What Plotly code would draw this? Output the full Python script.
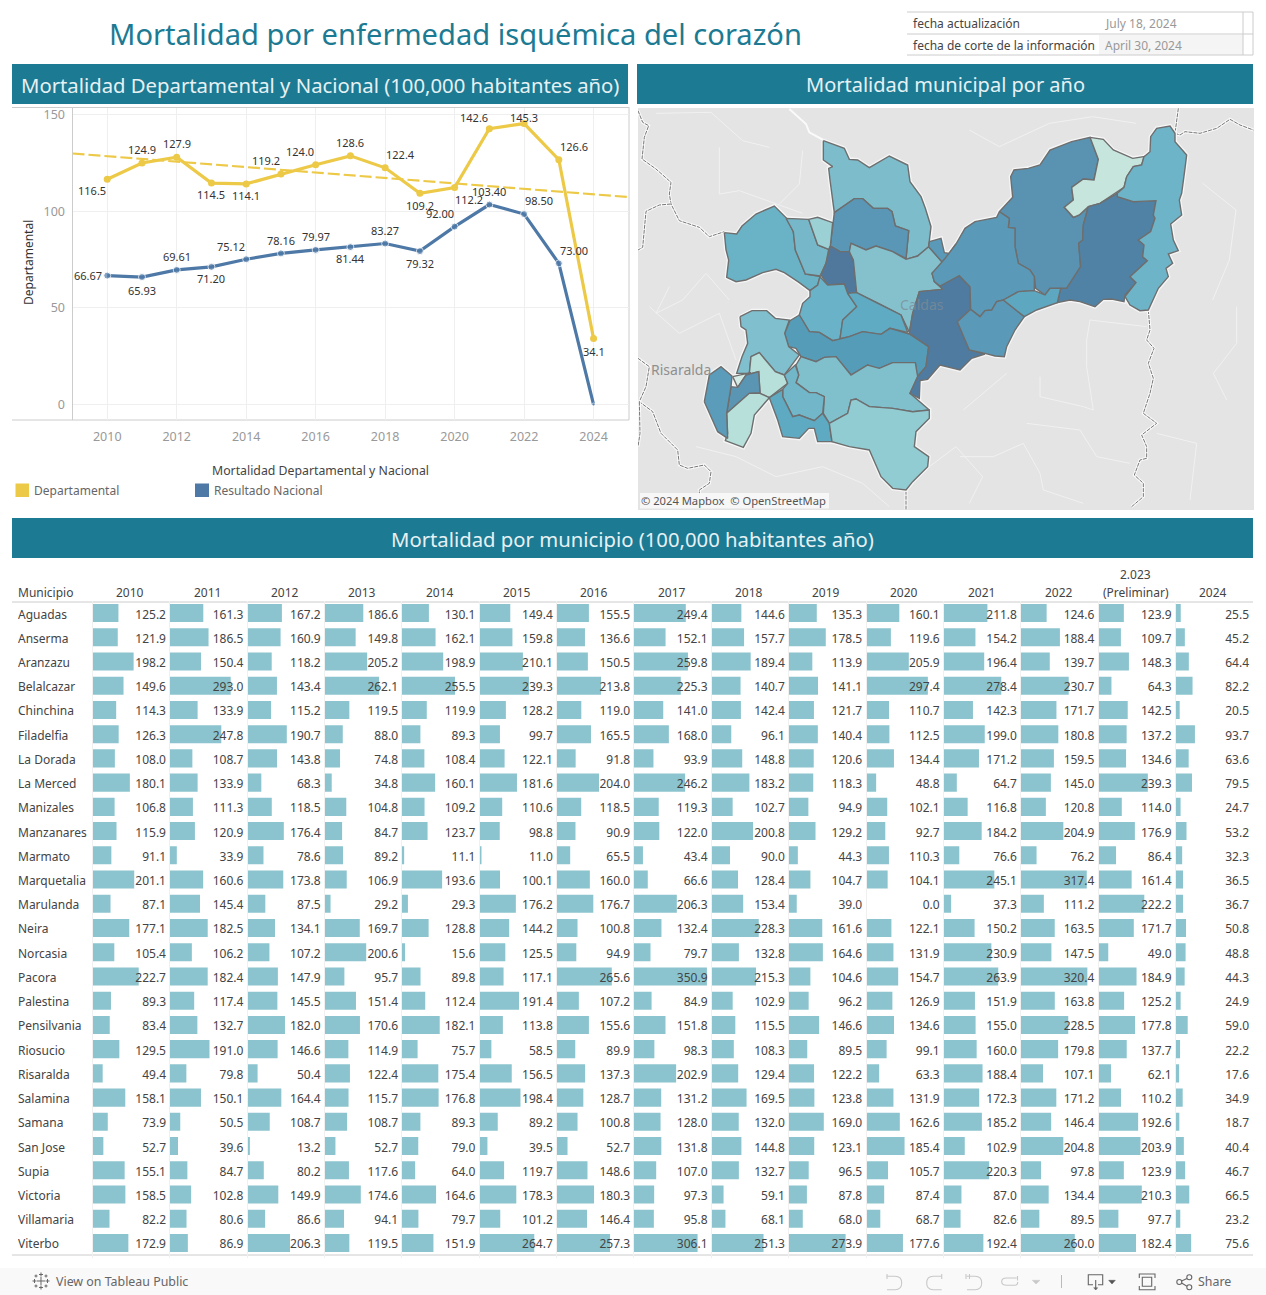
import plotly.graph_objects as go

W, H = 1266, 1295

# ---------- line chart data ----------
years = list(range(2010, 2025))
departamental = [116.5,124.9,127.9,114.5,114.1,119.2,124.0,128.6,122.4,109.2,112.2,142.6,145.3,126.6,34.1]
nacional = [66.67,65.93,69.61,71.20,75.12,78.16,79.97,81.44,83.27,79.32,92.00,103.40,98.50,73.00,0]
nacional_labels = ["66.67","65.93","69.61","71.20","75.12","78.16","79.97","81.44","83.27","79.32","92.00","103.40","98.50","73.00",""]
trend_x = [2009, 2025]
trend_y = [129.8, 107.3]

# ---------- table data ----------
col_heads = ["2010","2011","2012","2013","2014","2015","2016","2017","2018","2019","2020","2021","2022","(Preliminar)","2024"]
municipios = ["Aguadas","Anserma","Aranzazu","Belalcazar","Chinchina","Filadelfia","La Dorada","La Merced","Manizales","Manzanares","Marmato","Marquetalia","Marulanda","Neira","Norcasia","Pacora","Palestina","Pensilvania","Riosucio","Risaralda","Salamina","Samana","San Jose","Supia","Victoria","Villamaria","Viterbo"]
aguadas = [125.2,161.3,167.2,186.6,130.1,149.4,155.5,249.4,144.6,135.3,160.1,211.8,124.6,123.9,25.5]
anserma = [121.9,186.5,160.9,149.8,162.1,159.8,136.6,152.1,157.7,178.5,119.6,154.2,188.4,109.7,45.2]
aranzazu = [198.2,150.4,118.2,205.2,198.9,210.1,150.5,259.8,189.4,113.9,205.9,196.4,139.7,148.3,64.4]
belalcazar = [149.6,293.0,143.4,262.1,255.5,239.3,213.8,225.3,140.7,141.1,297.4,278.4,230.7,64.3,82.2]
chinchina = [114.3,133.9,115.2,119.5,119.9,128.2,119.0,141.0,142.4,121.7,110.7,142.3,171.7,142.5,20.5]
filadelfia = [126.3,247.8,190.7,88.0,89.3,99.7,165.5,168.0,96.1,140.4,112.5,199.0,180.8,137.2,93.7]
la_dorada = [108.0,108.7,143.8,74.8,108.4,122.1,91.8,93.9,148.8,120.6,134.4,171.2,159.5,134.6,63.6]
la_merced = [180.1,133.9,68.3,34.8,160.1,181.6,204.0,246.2,183.2,118.3,48.8,64.7,145.0,239.3,79.5]
manizales = [106.8,111.3,118.5,104.8,109.2,110.6,118.5,119.3,102.7,94.9,102.1,116.8,120.8,114.0,24.7]
manzanares = [115.9,120.9,176.4,84.7,123.7,98.8,90.9,122.0,200.8,129.2,92.7,184.2,204.9,176.9,53.2]
marmato = [91.1,33.9,78.6,89.2,11.1,11.0,65.5,43.4,90.0,44.3,110.3,76.6,76.2,86.4,32.3]
marquetalia = [201.1,160.6,173.8,106.9,193.6,100.1,160.0,66.6,128.4,104.7,104.1,245.1,317.4,161.4,36.5]
marulanda = [87.1,145.4,87.5,29.2,29.3,176.2,176.7,206.3,153.4,39.0,0.0,37.3,111.2,222.2,36.7]
neira = [177.1,182.5,134.1,169.7,128.8,144.2,100.8,132.4,228.3,161.6,122.1,150.2,163.5,171.7,50.8]
norcasia = [105.4,106.2,107.2,200.6,15.6,125.5,94.9,79.7,132.8,164.6,131.9,230.9,147.5,49.0,48.8]
pacora = [222.7,182.4,147.9,95.7,89.8,117.1,265.6,350.9,215.3,104.6,154.7,263.9,320.4,184.9,44.3]
palestina = [89.3,117.4,145.5,151.4,112.4,191.4,107.2,84.9,102.9,96.2,126.9,151.9,163.8,125.2,24.9]
pensilvania = [83.4,132.7,182.0,170.6,182.1,113.8,155.6,151.8,115.5,146.6,134.6,155.0,228.5,177.8,59.0]
riosucio = [129.5,191.0,146.6,114.9,75.7,58.5,89.9,98.3,108.3,89.5,99.1,160.0,179.8,137.7,22.2]
risaralda = [49.4,79.8,50.4,122.4,175.4,156.5,137.3,202.9,129.4,122.2,63.3,188.4,107.1,62.1,17.6]
salamina = [158.1,150.1,164.4,115.7,176.8,198.4,128.7,131.2,169.5,123.8,131.9,172.3,171.2,110.2,34.9]
samana = [73.9,50.5,108.7,108.7,89.3,89.2,100.8,128.0,132.0,169.0,162.6,185.2,146.4,192.6,18.7]
san_jose = [52.7,39.6,13.2,52.7,79.0,39.5,52.7,131.8,144.8,123.1,185.4,102.9,204.8,203.9,40.4]
supia = [155.1,84.7,80.2,117.6,64.0,119.7,148.6,107.0,132.7,96.5,105.7,220.3,97.8,123.9,46.7]
victoria = [158.5,102.8,149.9,174.6,164.6,178.3,180.3,97.3,59.1,87.8,87.4,87.0,134.4,210.3,66.5]
villamaria = [82.2,80.6,86.6,94.1,79.7,101.2,146.4,95.8,68.1,68.0,68.7,82.6,89.5,97.7,23.2]
viterbo = [172.9,86.9,206.3,119.5,151.9,264.7,257.3,306.1,251.3,273.9,177.6,192.4,260.0,182.4,75.6]
filas = [aguadas,anserma,aranzazu,belalcazar,chinchina,filadelfia,la_dorada,la_merced,manizales,manzanares,marmato,marquetalia,marulanda,neira,norcasia,pacora,palestina,pensilvania,riosucio,risaralda,salamina,samana,san_jose,supia,victoria,villamaria,viterbo]

# ---------- map outlines (map units) ----------
p_a = [(562,122),(625,145),(640,178),(665,180),(700,203),(760,168),(815,195),(822,245),(855,290),(868,325),(885,380),(878,440),(845,468),(810,478),(818,392),(778,378),(768,335),(755,325),(712,325),(680,296),(655,296),(595,338),(582,240),(578,205),(590,200),(562,180)]
p_b = [(595,338),(655,296),(680,296),(712,325),(755,325),(768,335),(778,378),(818,392),(810,475),(770,455),(720,438),(690,450),(645,430),(640,455),(612,455),(583,438),(590,380)]
p_c = [(265,398),(302,402),(318,378),(360,342),(415,318),(455,358),(472,395),(478,450),(508,522),(552,530),(545,555),(522,572),(490,548),(445,518),(420,508),(380,518),(330,540),(300,545),(272,532),(278,480),(270,450)]
p_d = [(450,355),(518,358),(545,435),(578,448),(570,490),(552,528),(508,522),(478,450),(472,395)]
p_e = [(518,358),(545,352),(590,368),(583,438),(578,448),(545,435)]
p_f = [(583,438),(612,455),(640,455),(652,480),(662,578),(635,580),(625,552),(575,555),(555,525),(570,490)]
p_g = [(645,430),(690,450),(720,438),(770,455),(810,478),(845,468),(878,440),(920,488),(888,520),(895,545),(920,568),(850,575),(830,640),(820,697),(795,645),(730,612),(662,578),(652,480),(640,455)]
p_h = [(880,425),(915,415),(925,458),(940,460),(960,432),(925,488),(920,488),(878,440)]
p_i = [(552,530),(575,555),(625,552),(635,580),(662,620),(620,660),(612,718),(590,722),(550,697),(520,695),(490,645),(500,610),(522,590),(522,572),(545,555)]
p_j = [(635,580),(662,578),(730,612),(795,645),(815,697),(762,685),(735,703),(680,695),(640,710),(612,716),(620,660),(662,620)]
p_k = [(490,645),(520,695),(550,697),(590,722),(640,710),(680,695),(735,703),(762,685),(820,702),(878,740),(870,800),(843,830),(838,788),(770,788),(730,805),(700,800),(695,795),(645,825),(600,770),(565,772),(540,785),(495,770),(480,745),(458,740),(446,700),(462,662)]
p_l = [(312,650),(348,632),(392,632),(418,655),(460,660),(446,700),(458,740),(490,765),(445,825),(418,815),(370,758),(345,770),(340,820),(302,820),(318,770),(335,730),(330,690),(315,680)]
p_m = [(345,770),(370,758),(418,815),(445,825),(455,850),(400,893),(372,880),(368,815),(330,825),(340,820)]
p_n = [(290,830),(345,818),(330,825),(305,862)]
p_o = [(305,862),(330,825),(368,815),(372,878),(340,880),(272,940),(285,860)]
p_p = [(340,880),(372,880),(400,893),(355,945),(345,1000),(322,1042),(268,1022),(275,1000),(272,940)]
p_q = [(205,905),(220,825),(255,800),(288,828),(285,860),(272,940),(275,1015),(245,995),(225,950)]
p_r = [(480,795),(495,770),(540,785),(565,772),(600,770),(645,825),(695,795),(730,805),(770,788),(838,788),(845,830),(822,880),(880,930),(830,935),(770,925),(700,920),(660,897),(645,900),(635,940),(580,970),(562,940),(565,890),(540,878),(520,878),(480,848),(488,825)]
p_s = [(445,825),(478,795),(488,825),(480,848),(520,878),(540,878),(565,890),(560,940),(535,962),(490,945),(470,950),(440,890),(440,868),(455,850)]
p_t = [(400,893),(440,868),(440,890),(470,950),(490,945),(535,962),(560,940),(580,970),(588,1025),(545,1025),(535,985),(518,985),(490,1015),(440,1010),(425,960)]
p_u = [(580,970),(635,940),(645,900),(660,897),(700,920),(770,925),(830,935),(880,930),(880,955),(840,995),(835,1040),(878,1070),(875,1100),(830,1145),(810,1170),(770,1165),(735,1130),(700,1050),(640,1040),(588,1025)]
p_v = [(912,558),(970,527),(1002,560),(1004,628),(964,665),(1000,750),(1047,762),(1007,775),(972,810),(912,795),(875,838),(852,842),(850,895),(822,880),(845,830),(870,800),(878,740),(820,700),(830,640),(850,575),(920,568)]
p_w = [(1090,335),(1130,292),(1124,230),(1134,210),(1177,205),(1212,195),(1242,150),(1307,125),(1362,112),(1387,178),(1374,240),(1342,237),(1307,262),(1312,300),(1285,322),(1312,352),(1330,345),(1357,320),(1342,375),(1340,420),(1328,430),(1334,500),(1292,565),(1242,565),(1227,585),(1199,565),(1195,530),(1182,510),(1147,490),(1137,440),(1137,385),(1117,382),(1120,355)]
p_x = [(1362,112),(1402,118),(1432,150),(1490,175),(1524,170),(1517,195),(1492,200),(1472,230),(1464,262),(1392,310),(1357,320),(1330,345),(1312,352),(1285,322),(1312,300),(1307,262),(1342,237),(1374,240),(1387,178)]
p_y = [(1357,320),(1392,310),(1444,280),(1447,290),(1492,305),(1560,302),(1552,345),(1557,355),(1544,395),(1507,420),(1524,435),(1520,470),(1534,482),(1482,530),(1500,548),(1467,585),(1464,605),(1427,597),(1402,598),(1377,620),(1332,605),(1302,600),(1264,608),(1274,565),(1292,565),(1334,500),(1328,430),(1340,420),(1342,375)]
p_z = [(1524,170),(1542,155),(1544,110),(1562,85),(1602,78),(1617,100),(1617,125),(1652,165),(1647,205),(1637,280),(1630,300),(1637,345),(1604,372),(1612,420),(1627,452),(1597,462),(1610,490),(1590,505),(1597,530),(1567,565),(1537,630),(1512,632),(1482,615),(1467,590),(1500,548),(1482,530),(1534,482),(1520,470),(1524,435),(1507,420),(1544,395),(1557,355),(1552,345),(1560,302),(1492,305),(1444,290),(1444,280),(1464,262),(1472,230),(1492,200),(1517,195)]
p_aa = [(960,432),(987,385),(1017,365),(1082,352),(1090,335),(1120,355),(1117,382),(1137,385),(1137,440),(1147,490),(1182,510),(1195,530),(1195,572),(1147,575),(1102,600),(1082,605),(1067,630),(1047,632),(1032,650),(1004,628),(1002,560),(970,527),(912,558),(895,545),(888,520),(925,478)]
p_bb = [(964,665),(1004,628),(1032,650),(1047,632),(1067,630),(1082,605),(1102,600),(1165,650),(1137,690),(1112,740),(1105,770),(1077,768),(1047,760),(1000,750)]
p_cc = [(1102,600),(1147,575),(1195,572),(1227,585),(1242,565),(1274,565),(1264,608),(1202,630),(1165,650)]

# department borders (map units)
b_1 = [(6,32),(20,67),(38,77),(25,112),(18,177),(60,207),(105,247),(100,282),(105,312),(130,362),(190,382),(220,410),(265,395)]
b_2 = [(105,312),(70,315),(30,334),(25,392),(20,442),(6,450)]
b_4 = [(6,775),(40,800),(30,860),(10,905),(50,935),(75,1000),(125,1050),(130,1095),(155,1105),(205,1095),(225,1115),(220,1150),(190,1170),(190,1180)]
b_5 = [(10,905),(12,1000),(6,1040)]
b_6 = [(810,1172),(810,1228)]
b_7 = [(1627,25),(1617,100),(1632,105),(1647,95),(1692,100),(1742,85),(1782,58),(1812,75),(1852,90)]
b_8 = [(1537,630),(1542,690),(1532,720),(1554,745),(1537,790),(1552,835),(1542,880),(1522,940),(1562,970),(1517,1005),(1532,1040),(1532,1075),(1512,1080),(1495,1125),(1522,1150),(1522,1190),(1487,1220)]
# white road and faint rivers (map units)
w_1 = [(460,27),(510,72),(520,97),(562,120)]
r_1 = [(250,142),(250,282),(310,272),(500,340)]
r_2 = [(400,142),(320,122),(225,37),(60,40)]
r_3 = [(500,152),(490,252),(430,312)]
r_4 = [(1212,830),(1212,890),(1342,920),(1372,930),(1352,800),(1352,720),(1362,660),(1532,680)]
r_5 = [(1562,1000),(1682,1030),(1662,1200)]
r_6 = [(1802,620),(1802,730),(1732,820),(1772,900)]
r_7 = [(1112,820),(982,930)]
r_8 = [(972,1070),(1072,1070),(1162,1030),(1212,1120),(1222,1170),(1342,1210)]
r_9 = [(1172,970),(1332,990),(1382,1070),(1482,1090)]
r_10 = [(1000,90),(1090,140),(1240,70),(1370,50),(1500,70)]
r_11 = [(1700,250),(1800,330),(1780,480),(1730,600)]
r_12 = [(40,620),(130,700),(250,640),(300,780)]
r_13 = [(180,1040),(300,1070),(420,1130),(560,1100),(680,1150),(760,1220)]
r_14 = [(100,560),(60,640),(140,600),(210,520),(280,600)]
r_15 = [(880,1100),(960,1040),(1040,1130),(1000,1210)]

fig = go.Figure()

def px_x(v): return v / W
def px_y(v): return 1 - v / H

FONT = "Noto Sans"
TEAL = "#1c7a93"
YEL = "#edc948"
BLU = "#4e79a7"
BAR = "#8bc4ce"
HEAD = "#e6f1f4"

shapes = []
annots = []

def rect(x0, y0, x1, y1, fill, layer="below"):
    shapes.append(dict(type="rect", xref="paper", yref="paper", x0=px_x(x0), x1=px_x(x1), y0=px_y(y0), y1=px_y(y1),
                       fillcolor=fill, line=dict(width=0), layer=layer))

def hline(x0, x1, y, color="#cccccc", w=1):
    shapes.append(dict(type="line", xref="paper", yref="paper", x0=px_x(x0), x1=px_x(x1), y0=px_y(y), y1=px_y(y),
                       line=dict(color=color, width=w), layer="below"))

def vline(x, y0, y1, color="#cccccc", w=1):
    shapes.append(dict(type="line", xref="paper", yref="paper", x0=px_x(x), x1=px_x(x), y0=px_y(y0), y1=px_y(y1),
                       line=dict(color=color, width=w), layer="below"))

def label(x, y, s, size=12, color="#444444", anchor="left", family=FONT, **kw):
    annots.append(dict(xref="paper", yref="paper", x=px_x(x), y=px_y(y), text=s, showarrow=False, xanchor=anchor,
                       yanchor="middle", font=dict(size=size, color=color, family=family), borderpad=0, borderwidth=0, **kw))

def icon(cmds, color, w=1.1, fill=None):
    parts = []
    for c in cmds:
        if c[0] == "Z":
            parts.append("Z")
            continue
        nums = c[1:]
        pts = []
        for k in range(0, len(nums), 2):
            pts.append(f"{px_x(nums[k]):.6f},{px_y(nums[k + 1]):.6f}")
        parts.append(c[0] + " ".join(pts))
    shapes.append(dict(type="path", xref="paper", yref="paper", path=" ".join(parts), layer="above",
                       line=dict(color=color, width=w), fillcolor=fill or "rgba(0,0,0,0)"))

def circle(cx, cy, r, color):
    shapes.append(dict(type="circle", xref="paper", yref="paper", x0=px_x(cx - r), x1=px_x(cx + r), y0=px_y(cy + r), y1=px_y(cy - r),
                       line=dict(color=color, width=1.1), fillcolor="rgba(0,0,0,0)", layer="above"))

def plus(cx, cy, r, color="#666666"):
    icon([("M", cx - r, cy), ("L", cx + r, cy)], color, 1)
    icon([("M", cx, cy - r), ("L", cx, cy + r)], color, 1)

# ----- frame elements -----
rect(12, 64, 628, 104, TEAL)
rect(637, 64, 1253, 104, TEAL)
rect(12, 518, 1253, 558, TEAL)
label(455.5, 34, "Mortalidad por enfermedad isquémica del corazón", 29.1, TEAL, "center")
label(320, 84.5, "Mortalidad Departamental y Nacional (100,000 habitantes año)", 20.3, HEAD, "center")
label(945.5, 85, "Mortalidad municipal por año", 20, HEAD, "center")
label(632.5, 538.5, "Mortalidad por municipio (100,000 habitantes año)", 20.3, HEAD, "center")

# meta table
rect(1099, 35, 1243, 55, "#f5f5f5")
hline(907, 1253, 12); hline(907, 1253, 34); hline(907, 1253, 55)
vline(1243, 12, 55); vline(1253, 12, 55)
label(913, 24, "fecha actualización", 12, "#444444")
label(913, 45.5, "fecha de corte de la información", 12, "#444444")
label(1105, 24, "July 18, 2024", 12, "#999999")
label(1105, 45.5, "April 30, 2024", 12, "#999999")

# ----- line chart -----
hline(12, 629, 107.5); hline(12, 629, 420)
vline(629, 107, 420)
vline(72.5, 107, 420)
fig.add_trace(go.Scatter(x=trend_x, y=trend_y, mode="lines", line=dict(color=YEL, width=2.2, dash="12px,4px"), hoverinfo="skip"))
fig.add_trace(go.Scatter(x=years, y=nacional, mode="lines+markers", line=dict(color=BLU, width=3.2),
                         marker=dict(size=[7] * 14 + [3], color=BLU), name="Resultado Nacional"))
fig.add_trace(go.Scatter(x=years, y=departamental, mode="lines+markers", line=dict(color=YEL, width=3.2),
                         marker=dict(size=7, color=YEL), name="Departamental"))

dep_dx = [-15,0,0,0,0,-15,-15.5,0,15,0,14.5,-15,0,15,0]
dep_dy = [11.4,-13.4,-13.7,11.5,11.8,-13.4,-13.2,-13.3,-13.3,12.3,12,-11.4,-6.2,-13.2,12.7]
nac_dx = [-19,0,0,0,-15,0,0,0,0,0,-14.5,0,15,15,0]
nac_dy = [0.4,13,-13,12,-12.3,-12.5,-13,11.9,-12.6,12.8,-12.8,-12.9,-13.3,-12.4,0]
for i, yr in enumerate(years):
    annots.append(dict(x=yr, y=departamental[i], xref="x", yref="y", text=f"{departamental[i]:.1f}", showarrow=False,
                       xshift=dep_dx[i], yshift=-dep_dy[i], font=dict(size=11, color="#333333", family=FONT)))
    if nacional_labels[i]:
        annots.append(dict(x=yr, y=nacional[i], xref="x", yref="y", text=nacional_labels[i], showarrow=False,
                           xshift=nac_dx[i], yshift=-nac_dy[i], font=dict(size=11, color="#333333", family=FONT)))

# legend
label(212, 470.5, "Mortalidad Departamental y Nacional", 12.3, "#444444")
rect(15.5, 483.5, 29, 497, YEL)
rect(195, 483.5, 209, 497, BLU)
label(34, 490.5, "Departamental", 12, "#666666")
label(214, 490.5, "Resultado Nacional", 12, "#666666")
label(29, 263, "Departamental", 12, "#333333", "center", textangle=-90)

# ----- map -----
rect(638, 108, 1254, 510, "#e4e4e4")
for riv in [r_1, r_2, r_3, r_4, r_5, r_6, r_7, r_8, r_9, r_10, r_11, r_12, r_13, r_14, r_15]:
    fig.add_trace(go.Scatter(x=[a for a, _ in riv], y=[b for _, b in riv], xaxis="x2", yaxis="y2", mode="lines",
                             line=dict(color="#f1f1f1", width=1), hoverinfo="skip"))
fig.add_trace(go.Scatter(x=[a for a, _ in w_1], y=[b for _, b in w_1], xaxis="x2", yaxis="y2", mode="lines",
                         line=dict(color="#fafafa", width=2), hoverinfo="skip"))
for bord in [b_1, b_2, b_4, b_5, b_6, b_7, b_8]:
    fig.add_trace(go.Scatter(x=[a for a, _ in bord], y=[b for _, b in bord], xaxis="x2", yaxis="y2", mode="lines",
                             line=dict(color="#fafafa", width=3), hoverinfo="skip"))
    fig.add_trace(go.Scatter(x=[a for a, _ in bord], y=[b for _, b in bord], xaxis="x2", yaxis="y2", mode="lines",
                             line=dict(color="#777777", width=1, dash="4px,1px"), hoverinfo="skip"))
polys = [(p_a,"#7cbccb"),(p_b,"#5a97b6"),(p_c,"#6ab3c6"),(p_d,"#76b8c9"),(p_e,"#9bd0d5"),(p_f,"#4f789c"),(p_g,"#84c1cd"),
         (p_h,"#5a9ab8"),(p_i,"#6ab2c7"),(p_j,"#5eabc3"),(p_k,"#559cb9"),(p_l,"#80bfcd"),(p_m,"#b7e0da"),(p_n,"#d5ece6"),
         (p_o,"#5a95b4"),(p_p,"#b7e0da"),(p_q,"#5a9cba"),(p_r,"#80bfcc"),(p_s,"#72b7c9"),(p_t,"#5eaac2"),(p_u,"#91ccd3"),
         (p_v,"#4f7ba0"),(p_w,"#5a92b1"),(p_x,"#c5e5dd"),(p_y,"#5082a6"),(p_z,"#6eb4c8"),(p_aa,"#5a9ab8"),(p_bb,"#5a9ab8"),(p_cc,"#5da7c1")]
for pts, _c in polys:
    cx = [a for a, _ in pts] + [pts[0][0]]
    cy = [b for _, b in pts] + [pts[0][1]]
    fig.add_trace(go.Scatter(x=cx, y=cy, xaxis="x2", yaxis="y2", mode="lines", line=dict(color="#f6f6f6", width=4), hoverinfo="skip"))
for pts, colr in polys:
    cx = [a for a, _ in pts] + [pts[0][0]]
    cy = [b for _, b in pts] + [pts[0][1]]
    fig.add_trace(go.Scatter(x=cx, y=cy, xaxis="x2", yaxis="y2", mode="lines", fill="toself", fillcolor=colr,
                             line=dict(color="#6e6e6e", width=1.4), hoverinfo="skip"))
label(681, 369.5, "Risaralda", 14, "#8f8f8f", "center")
label(922, 304, "Caldas", 14, "rgba(125,140,150,0.75)", "center")
rect(640, 493, 829, 508.5, "rgba(255,255,255,0.7)", "above")
label(641, 500.5, "© 2024 Mapbox  © OpenStreetMap", 11.2, "#555555")

# ----- table -----
col0 = 92.4
step = 77.36
PXU = 0.208
for j in range(15):
    ax = 3 + j
    xv = [f[j] for f in filas]
    fig.add_trace(go.Bar(x=xv, y=municipios, orientation="h", xaxis=f"x{ax}", yaxis="y3", width=0.745,
                         marker=dict(color=BAR, line=dict(width=0)), hoverinfo="x+y"))
    fig.add_trace(go.Scatter(x=[73.6 / PXU] * 27, y=municipios, xaxis=f"x{ax}", yaxis="y19", mode="text",
                             text=[f"{v:.1f}" for v in xv], textposition="middle left",
                             textfont=dict(size=12, color="#444444", family=FONT), hoverinfo="skip"))
    x0 = col0 + j * step
    label(x0 + 37.8, 592.5, col_heads[j], 12, "#444444", "center")
label(col0 + 13 * step + 37.8, 574.5, "2.023", 12, "#444444", "center")
label(18, 592.5, "Municipio", 12, "#444444")
hline(12, 1253, 602); hline(12, 1253, 1255)
fig.add_trace(go.Scatter(x=[0] * 27, y=municipios, xaxis="x18", yaxis="y19", mode="text", text=municipios,
                         textposition="middle right", textfont=dict(size=12, color="#444444", family=FONT), hoverinfo="skip"))

# ----- toolbar -----
rect(0, 1268, 1266, 1295, "#f9f9f9")
label(55.5, 1281.5, "View on Tableau Public", 12.4, "#666666")
label(1198, 1281.5, "Share", 12.4, "#666666")
plus(41, 1281, 4); plus(41, 1274.5, 2); plus(41, 1287.5, 2); plus(34.5, 1281, 2); plus(47.5, 1281, 2)
plus(36, 1276, 1.5); plus(46, 1276, 1.5); plus(36, 1286, 1.5); plus(46, 1286, 1.5)
GR = "#c8c8c8"; DK = "#666666"
icon([("M",886.7,1276.3),("L",895,1276.3),("Q",901.7,1276.3,901.7,1283),("Q",901.7,1289.7,895,1289.7),("L",887,1289.7)], GR)
icon([("M",887,1274),("L",887,1279)], GR)
icon([("M",941.7,1276.3),("L",933.3,1276.3),("Q",926.7,1276.3,926.7,1283),("Q",926.7,1289.7,933.3,1289.7),("L",941.7,1289.7)], GR)
icon([("M",941.7,1274),("L",941.7,1279)], GR)
icon([("M",966.7,1276.3),("L",975,1276.3),("Q",981.7,1276.3,981.7,1283),("Q",981.7,1289.7,975,1289.7),("L",967,1289.7)], GR)
icon([("M",966,1274),("L",966,1279)], GR); icon([("M",969.5,1274),("L",969.5,1279)], GR)
icon([("M",1016.7,1278),("L",1006.7,1278),("Q",1001.7,1278,1001.7,1281.5),("Q",1001.7,1285.3,1006.7,1285.3),("L",1015,1285.3),("Q",1017.7,1285.3,1017.7,1282)], GR)
icon([("M",1017.5,1276),("L",1017.5,1280.5)], GR)
icon([("M",1032.3,1280.3),("L",1040,1280.3),("L",1036,1284),("Z",)], GR, 0.5, GR)
vline(1061.5, 1275, 1288, "#bbbbbb")
icon([("M",1093,1284.7),("L",1088.3,1284.7),("L",1088.3,1274.7),("L",1102.7,1274.7),("L",1102.7,1284.7),("L",1098,1284.7)], DK)
icon([("M",1095.7,1280),("L",1095.7,1289.7)], DK)
icon([("M",1093.7,1287.7),("L",1097.7,1287.7),("L",1095.7,1290),("Z",)], DK, 0.5, DK)
icon([("M",1108.7,1280.3),("L",1115.3,1280.3),("L",1112,1284),("Z",)], "#555555", 0.5, "#555555")
icon([("M",1142.3,1277.3),("L",1151.7,1277.3),("L",1151.7,1286.3),("L",1142.3,1286.3),("Z",)], DK)
icon([("M",1139.3,1278),("L",1139.3,1274),("L",1155,1274),("L",1155,1278)], DK)
icon([("M",1139.3,1286),("L",1139.3,1289.7),("L",1155,1289.7),("L",1155,1286)], DK)
circle(1189.3, 1277.3, 2.5, DK); circle(1179.3, 1282, 2.5, DK); circle(1189.3, 1287.3, 2.5, DK)
icon([("M",1181.6,1281),("L",1187,1278.4)], DK); icon([("M",1181.6,1283),("L",1187,1286.2)], DK)

layout = dict(
    width=W, height=H, margin=dict(l=0, r=0, t=0, b=0, pad=0, autoexpand=False), autosize=False,
    paper_bgcolor="white", plot_bgcolor="rgba(0,0,0,0)", showlegend=False, barmode="overlay",
    font=dict(family=FONT),
    shapes=shapes, annotations=annots,
    xaxis=dict(domain=[px_x(72.5), px_x(629)], range=[2009, 2025.02], dtick=2, tick0=2010, showgrid=True, gridcolor="#efefef",
               zeroline=False, showline=False, ticks="outside", ticklen=5, tickcolor="rgba(0,0,0,0)",
               tickfont=dict(size=12.5, color="#999999", family=FONT), anchor="y"),
    yaxis=dict(domain=[px_y(420), px_y(107.5)], range=[-8, 153.6], tickvals=[0, 50, 100, 150], showgrid=True, gridcolor="#efefef",
               zeroline=False, showline=False, tickfont=dict(size=12.5, color="#999999", family=FONT), anchor="x",
               ticks="outside", ticklen=4, tickcolor="rgba(0,0,0,0)"),
    xaxis2=dict(domain=[px_x(638), px_x(1254)], range=[6, 1854], visible=False, anchor="y2", fixedrange=True),
    yaxis2=dict(domain=[px_y(510), px_y(108)], range=[1230, 24], visible=False, anchor="x2", fixedrange=True),
    yaxis3=dict(domain=[px_y(1255.1), px_y(600.9)], range=[26.5, -0.5], type="category", categoryorder="array", categoryarray=municipios,
                visible=False, anchor="x18"),
    yaxis19=dict(domain=[px_y(1257.6), px_y(603.4)], range=[26.5, -0.5], type="category", categoryorder="array", categoryarray=municipios,
                 visible=False, anchor="x18"),
    xaxis18=dict(domain=[px_x(18), px_x(93)], range=[0, 1], visible=False, anchor="y3"),
)
for j in range(15):
    x0 = col0 + j * step
    layout[f"xaxis{3 + j}"] = dict(domain=[px_x(x0), px_x(x0 + step)], range=[0, step / PXU], anchor="y3", showgrid=False,
                                   zeroline=True, zerolinecolor="#f0f0f0", zerolinewidth=1, showticklabels=False, ticks="", showline=False)
fig.update_layout(**layout)

# dotted zero line
fig.add_shape(type="line", xref="x", yref="y", x0=2009, x1=2025.02, y0=0, y1=0, line=dict(color="#c4c4c4", width=1, dash="1px,2px"), layer="below")

fig.write_html("out.html", config=dict(displayModeBar=False), post_script="document.body.style.margin='0';document.body.style.overflow='hidden';")
